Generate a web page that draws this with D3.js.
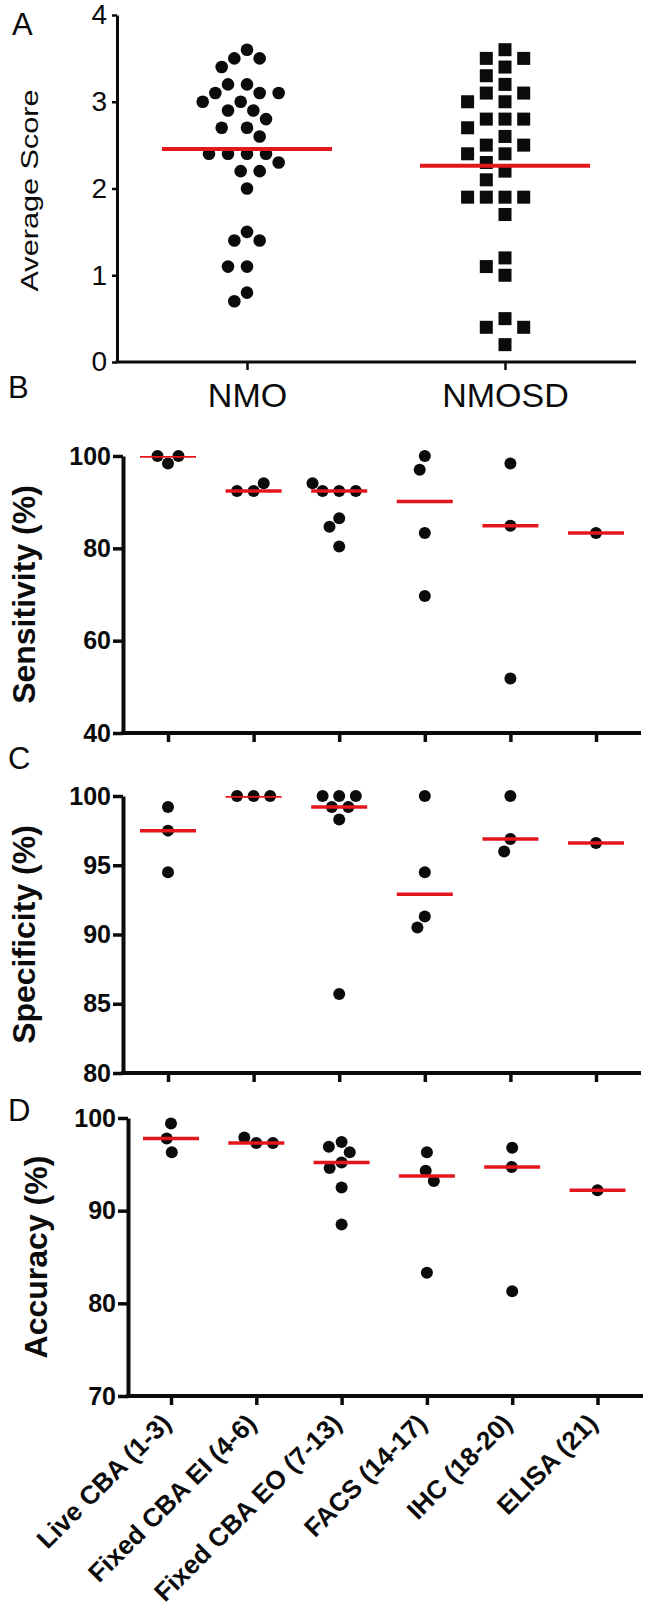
<!DOCTYPE html>
<html>
<head>
<meta charset="utf-8">
<script src="https://cdn.jsdelivr.net/npm/d3@7"></script>
<style>
  body { margin: 0; background: #fff; }
  svg { display: block; }
</style>
</head>
<body>
<svg id="chart" width="648" height="1613"></svg>
<script>
// ---------------- DATA ----------------
const scoreGroups = ["NMO", "NMOSD"];
const nmoScores = [3.6, 3.5, 3.5, 3.4, 3.2, 3.2, 3.1, 3.1, 3.1, 3.0, 3.0, 2.9, 2.9, 2.8, 2.7, 2.7,
                   2.6, 2.4, 2.4, 2.4, 2.4, 2.3, 2.2, 2.2, 2.0, 1.5, 1.4, 1.4, 1.1, 1.1, 0.8, 0.7];
const nmosdScores = [3.6, 3.5, 3.5, 3.4, 3.3, 3.2, 3.1, 3.1, 3.0, 3.0, 2.8, 2.8, 2.8, 2.7, 2.6, 2.5, 2.5,
                     2.4, 2.4, 2.3, 2.2, 2.1, 1.9, 1.9, 1.9, 1.9, 1.7, 1.2, 1.1, 1.0, 0.5, 0.4, 0.4, 0.2];
const scoreTicks = [0, 1, 2, 3, 4];

const assays = ["Live CBA (1-3)", "Fixed CBA EI (4-6)", "Fixed CBA EO (7-13)", "FACS (14-17)", "IHC (18-20)", "ELISA (21)"];
const sensitivity = [
  [98.4, 100, 100],
  [92.4, 92.4, 94.1],
  [92.4, 92.4, 92.4, 94.1, 86.5, 84.7, 80.4],
  [100, 97.0, 83.3, 69.7],
  [98.4, 84.9, 51.8],
  [83.3]
];
const specificity = [
  [99.2, 97.5, 94.5],
  [100, 100, 100],
  [100, 100, 100, 99.2, 99.2, 98.3, 85.7],
  [100, 94.5, 91.3, 90.5],
  [100, 96.9, 96.0],
  [96.6]
];
const accuracy = [
  [99.4, 97.8, 96.3],
  [97.3, 97.9, 97.3],
  [97.4, 96.9, 96.3, 95.2, 94.6, 92.5, 88.5],
  [96.3, 94.3, 93.2, 83.3],
  [96.8, 94.7, 81.3],
  [92.2]
];
const sensTicks = [40, 60, 80, 100];
const specTicks = [80, 85, 90, 95, 100];
const accTicks = [70, 80, 90, 100];

// ---------------- HELPERS ----------------
const FONT = '"Liberation Sans", Arial, Helvetica, sans-serif';
const RED = "#e3161c";
const INK = "#0b0b0b";
const svg = d3.select("#chart");

// greedy beeswarm: returns horizontal offsets for values (processed in given order)
function swarm(vals, y, req) {
  const placed = [];
  return vals.map(v => {
    const py = y(v);
    const cands = [0];
    placed.forEach(p => {
      const r = req(Math.abs(p.y - py));
      if (r > 0) cands.push(p.x + r, p.x - r);
    });
    cands.sort((a, b) => Math.abs(a) - Math.abs(b) || a - b);
    const x = cands.find(c => placed.every(p => Math.abs(c - p.x) >= req(Math.abs(p.y - py)) - 1e-6));
    placed.push({ x, y: py });
    return { v, dx: x, y: py };
  });
}

function letter(txt, x, y) {
  svg.append("text").attr("x", x).attr("y", y).text(txt)
    .attr("font-family", FONT).attr("font-size", 31).attr("fill", INK);
}

// ---------------- PANEL A ----------------
(function panelA() {
  const axisX = 117, top = 15, bottom = 362, right = 636;
  const y = d3.scaleLinear().domain([0, 4]).range([bottom, top]);
  const x = d3.scalePoint().domain(scoreGroups).range([247, 505]);
  const g = svg.append("g");

  g.append("g").attr("transform", `translate(${axisX},0)`)
    .call(d3.axisLeft(y).tickValues(scoreTicks).tickFormat(d3.format("d")).tickSize(5).tickPadding(5).tickSizeOuter(0))
    .call(a => {
      a.attr("font-family", FONT).attr("font-size", 28);
      a.select(".domain").attr("stroke", INK).attr("stroke-width", 3);
      a.selectAll(".tick line").attr("stroke", INK).attr("stroke-width", 2.5);
      a.selectAll(".tick text").attr("fill", INK);
    });

  g.append("line").attr("x1", axisX - 1.5).attr("x2", right).attr("y1", bottom).attr("y2", bottom)
    .attr("stroke", INK).attr("stroke-width", 3);

  g.append("g").attr("transform", `translate(0,${bottom})`)
    .call(d3.axisBottom(x).tickSize(8).tickSizeOuter(0))
    .call(a => {
      a.select(".domain").remove();
      a.attr("font-family", FONT).attr("font-size", 34);
      a.selectAll(".tick line").attr("stroke", INK).attr("stroke-width", 2.5);
      a.selectAll(".tick text").attr("fill", INK).attr("dy", null).attr("y", 45);
    });

  // y title (stretched along its length like the reference)
  g.append("text")
    .attr("transform", `translate(38,${(top + bottom) / 2 + 2}) rotate(-90)`)
    .attr("text-anchor", "middle").attr("font-family", FONT).attr("font-size", 23)
    .attr("textLength", 202).attr("lengthAdjust", "spacingAndGlyphs")
    .attr("fill", INK).text("Average Score");

  // NMO circles
  const circReq = dy => Math.max(0, 19 * (1 - dy / 26));
  const nmo = swarm(nmoScores, y, circReq);
  g.append("g").selectAll("circle").data(nmo).join("circle")
    .attr("cx", d => x("NMO") + d.dx).attr("cy", d => d.y).attr("r", 6.3).attr("fill", INK);

  // NMOSD squares
  const sqReq = dy => (dy < 12.5 ? 18.7 : 0);
  const nmosd = swarm(nmosdScores, y, sqReq);
  const s = 13;
  g.append("g").selectAll("rect").data(nmosd).join("rect")
    .attr("x", d => x("NMOSD") + d.dx - s / 2).attr("y", d => d.y - s / 2)
    .attr("width", s).attr("height", s).attr("fill", INK);

  // mean lines
  const means = [d3.mean(nmoScores), d3.mean(nmosdScores)];
  g.append("g").selectAll("line").data(scoreGroups).join("line")
    .attr("x1", d => x(d) - 85).attr("x2", d => x(d) + 85)
    .attr("y1", (d, i) => y(means[i])).attr("y2", (d, i) => y(means[i]))
    .attr("stroke", RED).attr("stroke-width", 4);

  letter("A", 12, 35);
})();

// ---------------- PANELS B-D ----------------
function dotPanel(o) {
  const y = d3.scaleLinear().domain(o.domain).range([o.bottom, o.top]);
  const x = d3.scalePoint().domain(assays).range(o.xRange);
  const g = svg.append("g");
  const id = "clip" + o.key;

  g.append("clipPath").attr("id", id).append("rect")
    .attr("x", o.axisX).attr("y", o.top).attr("width", o.right - o.axisX).attr("height", o.bottom - o.top);

  // y axis
  g.append("g").attr("transform", `translate(${o.axisX},0)`)
    .call(d3.axisLeft(y).tickValues(o.ticks).tickFormat(d3.format("d")).tickSize(10).tickPadding(2).tickSizeOuter(0))
    .call(a => {
      a.attr("font-family", FONT).attr("font-size", 25).attr("font-weight", "bold");
      a.select(".domain").attr("stroke", INK).attr("stroke-width", 4);
      a.selectAll(".tick line").attr("stroke", INK).attr("stroke-width", 3.5);
      a.selectAll(".tick text").attr("fill", INK);
    });

  // x axis line
  g.append("line").attr("x1", o.axisX - 2).attr("x2", o.right).attr("y1", o.bottom).attr("y2", o.bottom)
    .attr("stroke", INK).attr("stroke-width", 4);

  g.append("g").attr("transform", `translate(0,${o.bottom})`)
    .call(d3.axisBottom(x).tickSize(9).tickSizeOuter(0))
    .call(a => {
      a.select(".domain").remove();
      a.attr("font-family", FONT).attr("font-size", 26).attr("font-weight", "bold");
      a.selectAll(".tick line").attr("stroke", INK).attr("stroke-width", 3.5);
      if (o.labels) {
        a.selectAll(".tick text").attr("fill", INK).attr("dy", null).attr("y", null)
          .attr("text-anchor", "end")
          .attr("transform", "translate(1,29) rotate(-45)");
      } else {
        a.selectAll(".tick text").remove();
      }
    });

  // title
  g.append("text")
    .attr("transform", `translate(${o.titleX},${(o.top + o.bottom) / 2}) rotate(-90)`)
    .attr("text-anchor", "middle").attr("font-family", FONT).attr("font-size", 32).attr("font-weight", "bold")
    .attr("fill", INK).text(o.title);

  // dots
  const req = dy => Math.max(0, 16.6 * (1 - dy / 20));
  assays.forEach((cat, i) => {
    const pts = swarm(o.vals[i], y, req);
    g.append("g").selectAll("circle").data(pts).join("circle")
      .attr("cx", d => x(cat) + d.dx).attr("cy", d => d.y).attr("r", 6).attr("fill", INK);
  });

  // median lines (clipped to plot area)
  const med = o.vals.map(v => d3.median(v));
  g.append("g").attr("clip-path", `url(#${id})`)
    .selectAll("line").data(assays).join("line")
    .attr("x1", d => x(d) - 28).attr("x2", d => x(d) + 28)
    .attr("y1", (d, i) => y(med[i])).attr("y2", (d, i) => y(med[i]))
    .attr("stroke", RED).attr("stroke-width", 3.5);
}

dotPanel({ key: "B", vals: sensitivity, domain: [40, 100], ticks: sensTicks, top: 456, bottom: 733,
           axisX: 123, right: 641, xRange: [168, 596], title: "Sensitivity (%)", titleX: 35, labels: false });
dotPanel({ key: "C", vals: specificity, domain: [80, 100], ticks: specTicks, top: 796, bottom: 1073,
           axisX: 123, right: 641, xRange: [168, 596], title: "Specificity (%)", titleX: 35, labels: false });
dotPanel({ key: "D", vals: accuracy, domain: [70, 100], ticks: accTicks, top: 1118, bottom: 1396,
           axisX: 128, right: 643, xRange: [171, 597.5], title: "Accuracy (%)", titleX: 47, labels: true });

letter("B", 8, 398);
letter("C", 8, 769);
letter("D", 8, 1121);
</script>
</body>
</html>
